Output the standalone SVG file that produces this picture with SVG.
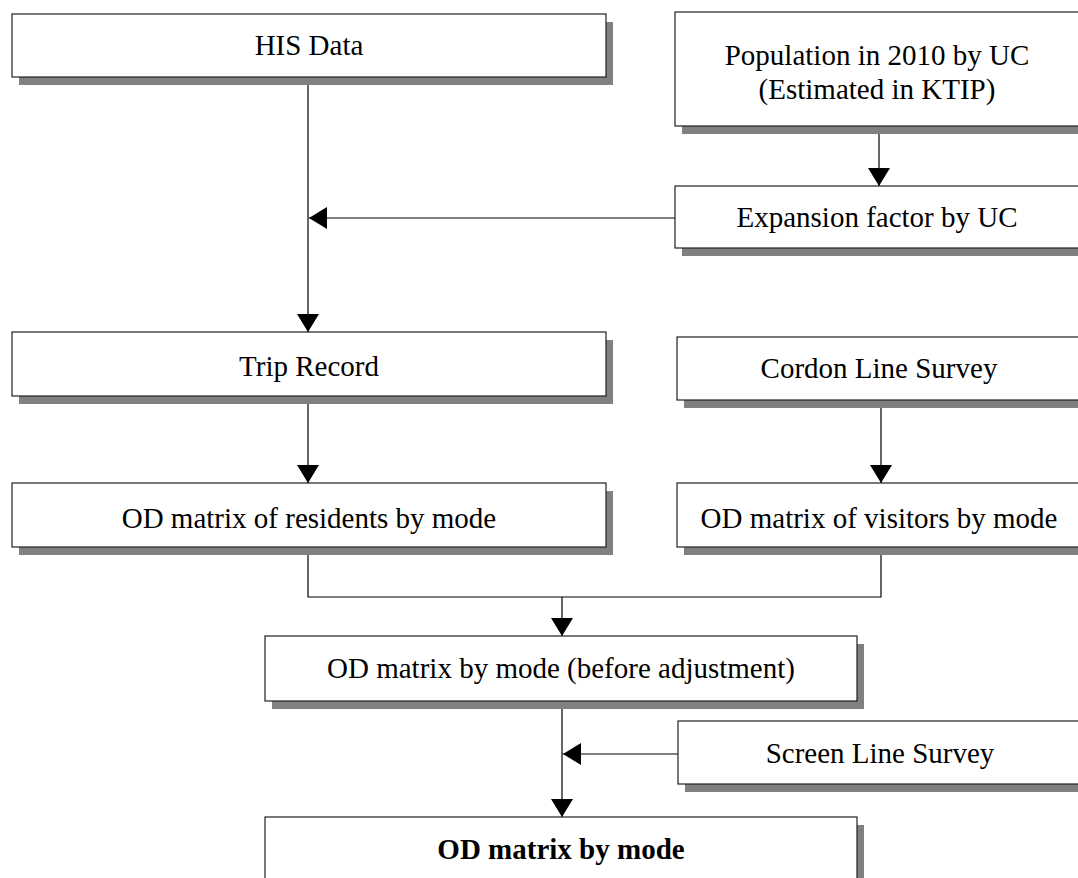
<svg xmlns="http://www.w3.org/2000/svg" width="1078" height="878" viewBox="0 0 1078 878">
<defs>
<style>
.box{fill:#ffffff;stroke:#202020;stroke-width:1.2}
.sh{fill:#808080}
.t{font-family:"Liberation Serif","Times New Roman",serif;font-size:29px;fill:#000;text-anchor:middle}
.b{font-weight:bold}
.ln{fill:none;stroke:#000;stroke-width:1.2}
</style>
<marker id="ah" markerUnits="userSpaceOnUse" markerWidth="19" markerHeight="23" refX="18" refY="11" orient="auto">
<path d="M0,0 L18,11 L0,22 z" fill="#000"/>
</marker>
</defs>
<rect width="1078" height="878" fill="#ffffff"/>
<g id="connectors">
<line class="ln" x1="308" y1="77" x2="308" y2="332" marker-end="url(#ah)"/>
<line class="ln" x1="879" y1="126" x2="879" y2="186" marker-end="url(#ah)"/>
<line class="ln" x1="675" y1="218" x2="309" y2="218" marker-end="url(#ah)"/>
<line class="ln" x1="308" y1="396" x2="308" y2="483" marker-end="url(#ah)"/>
<line class="ln" x1="881" y1="400" x2="881" y2="483" marker-end="url(#ah)"/>
<polyline class="ln" points="308,547 308,597 881,597 881,547"/>
<line class="ln" x1="562" y1="597" x2="562" y2="636" marker-end="url(#ah)"/>
<line class="ln" x1="562" y1="701" x2="562" y2="817" marker-end="url(#ah)"/>
<line class="ln" x1="678" y1="754" x2="563" y2="754" marker-end="url(#ah)"/>
</g>
<g id="his">
<rect class="sh" x="19" y="22" width="594" height="63"/>
<rect class="box" x="12" y="14" width="594" height="63"/>
<text class="t" x="309" y="55">HIS Data</text>
</g>
<g id="population">
<rect class="sh" x="682" y="20" width="410" height="114"/>
<rect class="box" x="675" y="12" width="410" height="114"/>
<text class="t" x="877" y="65">Population in 2010 by UC</text>
<text class="t" x="877" y="99">(Estimated in KTIP)</text>
</g>
<g id="expansion">
<rect class="sh" x="682" y="194" width="410" height="62"/>
<rect class="box" x="675" y="186" width="410" height="62"/>
<text class="t" x="877" y="227">Expansion factor by UC</text>
</g>
<g id="trip">
<rect class="sh" x="19" y="340" width="594" height="64"/>
<rect class="box" x="12" y="332" width="594" height="64"/>
<text class="t" x="309" y="376">Trip Record</text>
</g>
<g id="cordon">
<rect class="sh" x="684" y="345" width="410" height="63"/>
<rect class="box" x="677" y="337" width="410" height="63"/>
<text class="t" x="879" y="378">Cordon Line Survey</text>
</g>
<g id="residents">
<rect class="sh" x="19" y="491" width="594" height="64"/>
<rect class="box" x="12" y="483" width="594" height="64"/>
<text class="t" x="309" y="528">OD matrix of residents by mode</text>
</g>
<g id="visitors">
<rect class="sh" x="684" y="491" width="410" height="64"/>
<rect class="box" x="677" y="483" width="410" height="64"/>
<text class="t" x="879" y="528">OD matrix of visitors by mode</text>
</g>
<g id="before">
<rect class="sh" x="272" y="644" width="592" height="65"/>
<rect class="box" x="265" y="636" width="592" height="65"/>
<text class="t" x="561" y="678">OD matrix by mode (before adjustment)</text>
</g>
<g id="screen">
<rect class="sh" x="685" y="729" width="410" height="63"/>
<rect class="box" x="678" y="721" width="410" height="63"/>
<text class="t" x="880" y="763">Screen Line Survey</text>
</g>
<g id="final">
<rect class="sh" x="272" y="825" width="592" height="80"/>
<rect class="box" x="265" y="817" width="592" height="80"/>
<text class="t b" x="561" y="859">OD matrix by mode</text>
</g>
</svg>
